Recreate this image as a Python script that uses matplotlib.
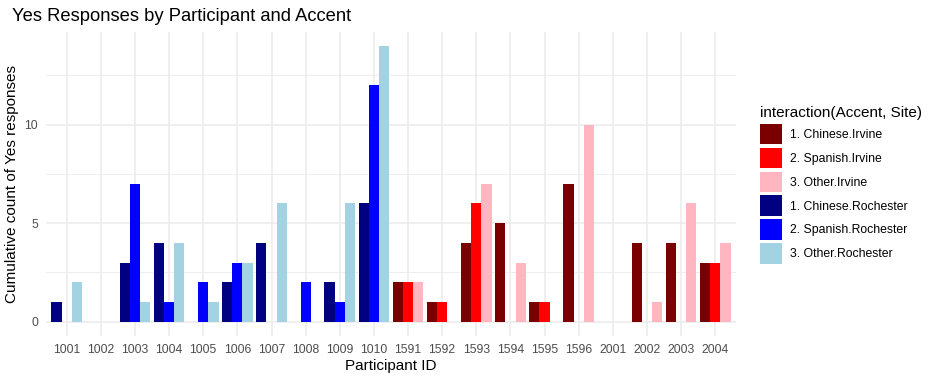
import matplotlib.pyplot as plt
import numpy as np
from matplotlib.patches import Patch

plt.rcParams['font.family'] = ['Liberation Sans', 'DejaVu Sans']

# participant ids on the x axis
participants = ['1001', '1002', '1003', '1004', '1005', '1006', '1007', '1008', '1009', '1010',
                '1591', '1592', '1593', '1594', '1595', '1596', '2001', '2002', '2003', '2004']

# cumulative yes counts per accent (0 = no bar)
chinese = [1, 0, 3, 4, 0, 2, 4, 0, 2, 6, 2, 1, 4, 5, 1, 7, 0, 4, 4, 3]
spanish = [0, 0, 7, 1, 2, 3, 0, 2, 1, 12, 2, 1, 6, 0, 1, 0, 0, 0, 0, 3]
other = [2, 0, 1, 4, 1, 3, 6, 0, 6, 14, 2, 0, 7, 3, 0, 10, 0, 1, 6, 4]

# site of each participant
site = ['Rochester'] * 10 + ['Irvine'] * 10

colors = {
    ('Chinese', 'Irvine'): '#7A0000',
    ('Spanish', 'Irvine'): '#FF0000',
    ('Other', 'Irvine'): '#FFB6C1',
    ('Chinese', 'Rochester'): '#000080',
    ('Spanish', 'Rochester'): '#0000FF',
    ('Other', 'Rochester'): '#A3D2E2',
}

fig = plt.figure(figsize=(9.36, 3.8), dpi=100)
ax = fig.add_axes([0.0494, 0.117, 0.7366, 0.799])

x = np.arange(1, len(participants) + 1)
w = 0.3
for offset, acc, vals in [(-w, 'Chinese', chinese), (0, 'Spanish', spanish), (w, 'Other', other)]:
    for xi, v, s in zip(x, vals, site):
        if v > 0:
            ax.bar(xi + offset, v, width=w, color=colors[(acc, s)], zorder=3)

ax.set_xlim(0.4, 20.6)
ax.set_ylim(-0.7, 14.7)
ax.set_xticks(x)
ax.set_xticklabels(participants)
ax.set_yticks([0, 5, 10])
ax.set_yticks([2.5, 7.5, 12.5], minor=True)
ax.grid(True, which='major', color='#EBEBEB', lw=1.1, zorder=0)
ax.grid(True, which='minor', axis='y', color='#EBEBEB', lw=0.6, zorder=0)
ax.tick_params(which='both', length=0, labelsize=8.8, labelcolor='#4D4D4D', pad=6)
for sp in ax.spines.values():
    sp.set_visible(False)

ax.set_xlabel('Participant ID', fontsize=11, labelpad=2)
ax.set_ylabel('Cumulative count of Yes responses', fontsize=11, labelpad=4)
fig.text(0.013, 0.945, 'Yes Responses by Participant and Accent', fontsize=13.2)

labels = ['1. Chinese.Irvine', '2. Spanish.Irvine', '3. Other.Irvine',
          '1. Chinese.Rochester', '2. Spanish.Rochester', '3. Other.Rochester']
keys = [('Chinese', 'Irvine'), ('Spanish', 'Irvine'), ('Other', 'Irvine'),
        ('Chinese', 'Rochester'), ('Spanish', 'Rochester'), ('Other', 'Rochester')]
handles = [Patch(facecolor=colors[k], edgecolor='none') for k in keys]
leg = fig.legend(handles, labels, title='interaction(Accent, Site)', loc='center left',
                 bbox_to_anchor=(0.80, 0.513), frameon=False, fontsize=8.8,
                 title_fontsize=11, handlelength=1.8, handleheight=2.2,
                 labelspacing=0.28, handletextpad=0.65, alignment='left')

fig.savefig('out.png', dpi=100)
